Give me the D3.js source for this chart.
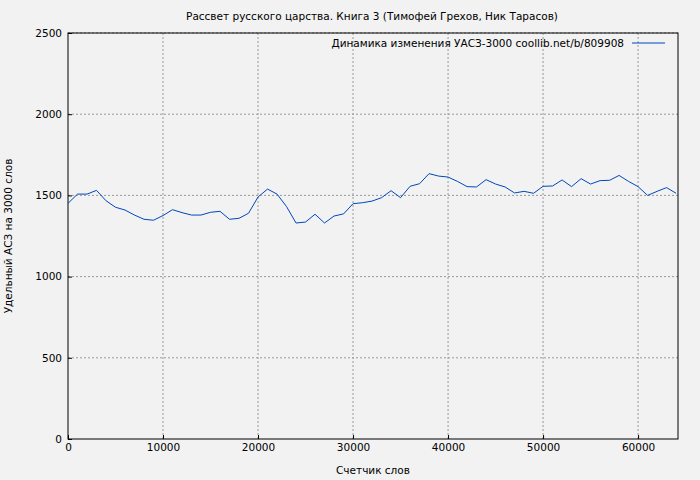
<!DOCTYPE html>
<html><head><meta charset="utf-8">
<script src="https://cdn.jsdelivr.net/npm/d3@7"></script>
<style>body{margin:0;background:#f2f2f2}text{font-family:"DejaVu Sans";font-size:10.5px;fill:#000}</style>
</head><body><div id="chart"></div>
<script>
// words counted, step 1000
var counts = d3.range(0, 65000, 1000);
var values = [1451,1508,1508,1531,1467,1427,1410,1379,1353,1347,1376,1412,1394,1379,1379,1396,1402,1353,1359,1390,
  1490,1539,1508,1431,1330,1336,1384,1330,1373,1386,1449,1455,1465,1486,1529,1486,1556,1572,1634,1619,
  1613,1586,1554,1552,1597,1570,1552,1515,1525,1513,1556,1558,1595,1554,1603,1570,1591,1593,1623,1586,
  1554,1500,1525,1548,1513];
var xTicks = [0,10000,20000,30000,40000,50000,60000];
var yTicks = [0,500,1000,1500,2000,2500];

var width = 700, height = 480;
var m = {left:68, right:22, top:33, bottom:41};

var svg = d3.select('#chart').append('svg')
.attr('width', width).attr('height', height);
svg.append('rect').attr('width', width).attr('height', height).attr('fill', '#f2f2f2');

var x = d3.scaleLinear().domain([0, 64200]).range([m.left, width - m.right]);
var y = d3.scaleLinear().domain([0, 2500]).range([height - m.bottom, m.top]);

//grid
svg.append('g').selectAll('line').data(xTicks.slice(1)).join('line')
.attr('x1', d => x(d)).attr('x2', d => x(d)).attr('y1', y(0)).attr('y2', y(2500))
.attr('stroke', '#999').attr('stroke-dasharray', '2,2');
svg.append('g').selectAll('line').data(yTicks.slice(1)).join('line')
.attr('x1', x(0)).attr('x2', x(64200)).attr('y1', d => y(d)).attr('y2', d => y(d))
.attr('stroke', '#999').attr('stroke-dasharray', '2,2');

svg.append('rect').attr('x', m.left).attr('y', m.top)
.attr('width', width - m.left - m.right).attr('height', height - m.top - m.bottom)
.attr('fill', 'none').attr('stroke', '#000');

var xAxis = svg.append('g').attr('transform', 'translate(0,' + y(0) + ')')
.call(d3.axisBottom(x).tickValues(xTicks).tickFormat(d3.format('d')).tickSize(-4).tickPadding(5));
var yAxis = svg.append('g').attr('transform', 'translate(' + m.left + ',0)')
.call(d3.axisLeft(y).tickValues(yTicks).tickFormat(d3.format('d')).tickSize(-4).tickPadding(6));
[xAxis, yAxis].forEach(a => { a.select('.domain').remove(); a.selectAll('text').style('font-size', '10.5px').attr('font-family', 'DejaVu Sans'); });

svg.append('path').datum(values)
.attr('d', d3.line().x((d, i) => x(counts[i])).y(d => y(d)))
.attr('fill', 'none').attr('stroke', '#0047bb').attr('stroke-width', 1);

svg.append('text').attr('x', 372).attr('y', 20).attr('text-anchor', 'middle')
.text('Рассвет русского царства. Книга 3 (Тимофей Грехов, Ник Тарасов)');
svg.append('text').attr('x', 373).attr('y', 474).attr('text-anchor', 'middle').text('Счетчик слов');
svg.append('text').attr('transform', 'translate(12,236) rotate(-90)').attr('text-anchor', 'middle')
.text('Удельный АСЗ на 3000 слов');

svg.append('text').attr('x', 624).attr('y', 47).attr('text-anchor', 'end')
.text('Динамика изменения УАСЗ-3000 coollib.net/b/809908');
svg.append('line').attr('x1', 632).attr('x2', 665).attr('y1', 43).attr('y2', 43)
.attr('stroke', '#0047bb');
</script></body></html>
